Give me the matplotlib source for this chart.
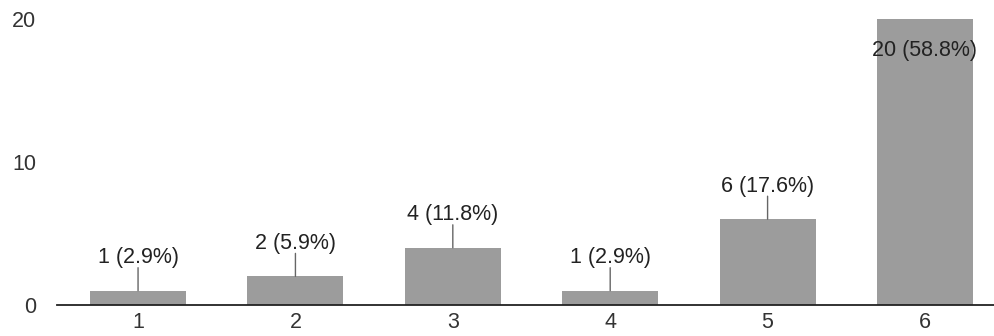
import matplotlib.pyplot as plt

plt.rcParams['font.family'] = ['Liberation Sans', 'DejaVu Sans']

categories = ['1', '2', '3', '4', '5', '6']
counts = [1, 2, 4, 1, 6, 20]
percents = [2.9, 5.9, 11.8, 2.9, 17.6, 58.8]
y_ticks = [0, 10, 20]

fig = plt.figure(figsize=(9.95, 3.36), dpi=100)
ax = fig.add_axes([57 / 995, 31 / 336, 1 - 57 / 995, 305 / 336])

x = list(range(1, len(categories) + 1))
ax.bar(x, counts, width=0.61, color='#9c9c9c', zorder=2)

ax.set_xlim(0.485, 6.445)
ax.set_ylim(0, 21.33)

# value labels: above the bar with a short leader, or inside when the bar is tall
for xi, c, p in zip(x, counts, percents):
    label = f'{c} ({p}%)'
    if c >= 15:
        ax.annotate(label, (xi, c), xytext=(0, -31), textcoords='offset pixels',
                    ha='center', va='center', fontsize=15.5, color='#222222')
    else:
        ax.annotate('', (xi, c), xytext=(0, 23), textcoords='offset pixels',
                    arrowprops=dict(arrowstyle='-', color='#666666', lw=1,
                                    shrinkA=0, shrinkB=0))
        ax.annotate(label, (xi, c), xytext=(0, 33), textcoords='offset pixels',
                    ha='center', va='center', fontsize=15.5, color='#222222')

ax.set_xticks(x)
ax.set_xticklabels(categories)
ax.set_yticks(y_ticks)
ax.tick_params(axis='both', length=0, labelsize=15.5, colors='#333333')
ax.tick_params(axis='y', pad=15)
ax.tick_params(axis='x', pad=5)

for side in ['top', 'right', 'left']:
    ax.spines[side].set_visible(False)
ax.spines['bottom'].set_color('#222222')
ax.spines['bottom'].set_linewidth(1.3)
ax.spines['bottom'].set_zorder(3)

fig.savefig('out.png', dpi=100)
